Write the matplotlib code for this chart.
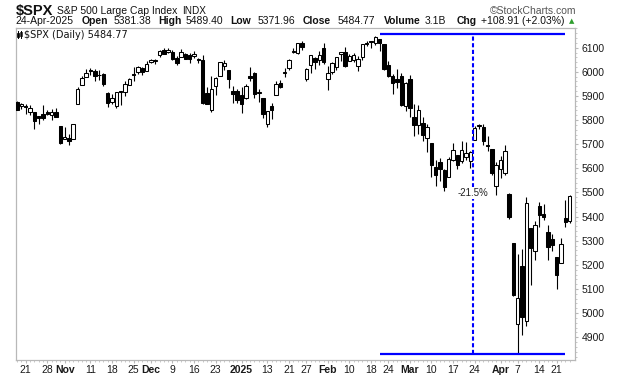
import matplotlib
matplotlib.use("Agg")
import matplotlib.pyplot as plt
from matplotlib.patches import Rectangle
from matplotlib.lines import Line2D
import numpy as np

# ---------------- data ----------------
dates = [
    "2024-10-17", "2024-10-18", "2024-10-21", "2024-10-22", "2024-10-23", "2024-10-24", "2024-10-25",
    "2024-10-28", "2024-10-29", "2024-10-30", "2024-10-31", "2024-11-01", "2024-11-04", "2024-11-05",
    "2024-11-06", "2024-11-07", "2024-11-08", "2024-11-11", "2024-11-12", "2024-11-13", "2024-11-14",
    "2024-11-15", "2024-11-18", "2024-11-19", "2024-11-20", "2024-11-21", "2024-11-22", "2024-11-25",
    "2024-11-26", "2024-11-27", "2024-11-29", "2024-12-02", "2024-12-03", "2024-12-04", "2024-12-05",
    "2024-12-06", "2024-12-09", "2024-12-10", "2024-12-11", "2024-12-12", "2024-12-13", "2024-12-16",
    "2024-12-17", "2024-12-18", "2024-12-19", "2024-12-20", "2024-12-23", "2024-12-24", "2024-12-26",
    "2024-12-27", "2024-12-30", "2024-12-31", "2025-01-02", "2025-01-03", "2025-01-06", "2025-01-07",
    "2025-01-08", "2025-01-10", "2025-01-13", "2025-01-14", "2025-01-15", "2025-01-16", "2025-01-17",
    "2025-01-21", "2025-01-22", "2025-01-23", "2025-01-24", "2025-01-27", "2025-01-28", "2025-01-29",
    "2025-01-30", "2025-01-31", "2025-02-03", "2025-02-04", "2025-02-05", "2025-02-06", "2025-02-07",
    "2025-02-10", "2025-02-11", "2025-02-12", "2025-02-13", "2025-02-14", "2025-02-18", "2025-02-19",
    "2025-02-20", "2025-02-21", "2025-02-24", "2025-02-25", "2025-02-26", "2025-02-27", "2025-02-28",
    "2025-03-03", "2025-03-04", "2025-03-05", "2025-03-06", "2025-03-07", "2025-03-10", "2025-03-11",
    "2025-03-12", "2025-03-13", "2025-03-14", "2025-03-17", "2025-03-18", "2025-03-19", "2025-03-20",
    "2025-03-21", "2025-03-24", "2025-03-25", "2025-03-26", "2025-03-27", "2025-03-28", "2025-03-31",
    "2025-04-01", "2025-04-02", "2025-04-03", "2025-04-04", "2025-04-07", "2025-04-08", "2025-04-09",
    "2025-04-10", "2025-04-11", "2025-04-14", "2025-04-15", "2025-04-16", "2025-04-17", "2025-04-21",
    "2025-04-22", "2025-04-23", "2025-04-24",
]

opens = [
    5875.6, 5859.4, 5857.8, 5832.7, 5834.5, 5817.8, 5826.8, 5833.9, 5819.7, 5832.7, 5775.3, 5723.2, 5725.2, 5722.4,
    5864.9, 5947.2, 5976.8, 6008.9, 6003.6, 5985.8, 5989.7, 5912.8, 5874.2, 5857.5, 5917.2, 5914.7, 5944.4, 5992.3,
    6000.0, 6014.1, 6004.0, 6040.1, 6043.0, 6069.4, 6089.0, 6081.4, 6084.0, 6057.6, 6060.2, 6074.3, 6068.2, 6063.8,
    6052.6, 6047.7, 5912.7, 5842.0, 5940.3, 5984.6, 6025.0, 6006.2, 5920.7, 5919.7, 5903.3, 5891.1, 5982.8, 5993.3,
    5910.7, 5890.6, 5782.2, 5859.5, 5905.5, 5955.7, 5995.3, 6014.1, 6081.4, 6076.3, 6121.4, 5969.0, 6027.0, 6057.7,
    6050.8, 6096.8, 5969.7, 5998.1, 6020.5, 6072.2, 6083.1, 6046.4, 6049.3, 6025.1, 6060.6, 6115.5, 6121.6, 6117.8,
    6134.5, 6114.1, 6026.7, 5982.7, 5970.9, 5981.9, 5856.7, 5968.3, 5812.0, 5781.4, 5785.9, 5726.0, 5705.4, 5603.7,
    5624.8, 5594.5, 5563.9, 5635.6, 5654.5, 5632.4, 5646.9, 5630.7, 5718.1, 5775.9, 5771.7, 5695.6, 5679.6, 5527.9,
    5597.5, 5580.8, 5492.7, 5292.1, 4953.8, 5193.6, 4965.3, 5353.2, 5255.6, 5442.0, 5412.0, 5335.8, 5305.5, 5232.9,
    5207.7, 5395.9, 5381.4,
]

highs = [
    5878.5, 5872.2, 5866.9, 5863.0, 5834.9, 5817.8, 5862.8, 5842.9, 5847.2, 5850.9, 5775.3, 5772.5, 5741.4, 5783.4,
    5936.1, 5983.8, 6012.5, 6017.3, 6009.9, 6008.2, 5993.9, 5915.1, 5908.1, 5917.1, 5920.7, 5963.3, 5972.9, 6020.8,
    6025.4, 6020.2, 6044.2, 6053.6, 6052.1, 6089.8, 6100.0, 6100.0, 6088.5, 6065.4, 6092.6, 6079.7, 6078.6, 6085.2,
    6057.7, 6070.7, 5935.5, 5982.1, 5978.3, 6040.1, 6049.8, 6006.2, 5940.8, 5929.7, 5935.1, 5949.3, 6021.0, 6000.7,
    5927.9, 5890.6, 5838.4, 5871.9, 5960.6, 5964.7, 6015.0, 6051.5, 6100.8, 6118.7, 6128.2, 6017.2, 6069.3, 6062.8,
    6086.6, 6120.9, 6022.1, 6042.5, 6062.9, 6084.0, 6101.3, 6073.4, 6076.3, 6063.6, 6116.9, 6127.5, 6129.6, 6147.4,
    6134.5, 6114.8, 6043.7, 5992.7, 6009.8, 5993.7, 5959.4, 5986.1, 5865.1, 5860.6, 5812.1, 5783.0, 5705.4, 5636.3,
    5642.2, 5597.8, 5645.3, 5703.5, 5654.5, 5715.3, 5711.2, 5670.8, 5775.1, 5783.0, 5783.0, 5732.3, 5679.6, 5627.6,
    5650.6, 5695.3, 5499.5, 5292.1, 5246.6, 5267.5, 5481.3, 5353.2, 5381.5, 5459.5, 5450.4, 5367.2, 5328.3, 5232.9,
    5309.6, 5469.7, 5489.4,
]

lows = [
    5840.3, 5846.1, 5824.8, 5821.2, 5762.4, 5784.9, 5800.0, 5823.1, 5802.2, 5811.3, 5702.9, 5723.2, 5696.5, 5722.1,
    5864.9, 5947.2, 5976.8, 5986.7, 5960.1, 5965.9, 5942.3, 5853.0, 5866.0, 5850.9, 5860.6, 5899.2, 5944.4, 5963.9,
    5992.3, 5984.9, 6004.0, 6035.3, 6033.4, 6061.1, 6080.0, 6080.0, 6048.6, 6029.9, 6060.2, 6051.3, 6035.8, 6059.1,
    6035.2, 5867.8, 5866.1, 5832.3, 5902.6, 5981.4, 6007.4, 5933.0, 5869.2, 5868.9, 5829.5, 5888.7, 5960.0, 5890.7,
    5874.8, 5809.9, 5773.3, 5805.4, 5905.5, 5931.9, 5978.4, 6006.9, 6076.3, 6074.7, 6088.7, 5962.9, 5994.7, 6013.0,
    6027.5, 6030.9, 5923.9, 5990.9, 6007.1, 6046.8, 6020.0, 6044.8, 6042.3, 6003.0, 6051.0, 6107.6, 6099.5, 6111.2,
    6084.6, 6008.6, 5977.4, 5908.5, 5932.7, 5858.8, 5837.7, 5810.9, 5732.6, 5742.4, 5711.6, 5666.3, 5564.0, 5528.4,
    5546.1, 5504.7, 5563.9, 5631.1, 5597.8, 5622.2, 5632.9, 5603.1, 5718.1, 5763.6, 5695.9, 5670.9, 5572.4, 5488.7,
    5558.5, 5571.5, 5390.8, 5069.9, 4835.0, 4910.4, 4948.4, 5115.3, 5220.8, 5358.0, 5386.4, 5220.8, 5255.6, 5101.6,
    5207.7, 5356.2, 5372.0,
]

closes = [
    5841.5, 5864.7, 5854.0, 5851.2, 5797.4, 5809.9, 5808.1, 5823.5, 5832.9, 5813.7, 5705.5, 5728.8, 5712.7, 5782.8,
    5929.0, 5973.1, 5995.5, 6001.4, 5984.0, 5985.4, 5949.2, 5870.6, 5893.6, 5917.0, 5917.1, 5948.7, 5969.3, 5987.4,
    6021.6, 5998.7, 6032.4, 6047.2, 6049.9, 6086.5, 6075.1, 6090.3, 6052.9, 6034.9, 6084.2, 6051.3, 6051.1, 6074.1,
    6050.6, 5872.2, 5867.1, 5930.9, 5974.1, 6040.0, 6037.6, 5970.8, 5906.9, 5881.6, 5868.6, 5942.5, 5975.4, 5909.0,
    5918.3, 5827.0, 5836.2, 5842.9, 5949.9, 5937.3, 5996.7, 6049.2, 6086.4, 6118.7, 6101.2, 6012.3, 6067.7, 6039.3,
    6071.2, 6040.5, 5994.6, 6037.9, 6061.5, 6083.6, 6026.0, 6066.4, 6068.5, 6052.0, 6115.1, 6114.6, 6129.6, 6144.2,
    6117.5, 6013.1, 5983.3, 5955.3, 5956.1, 5861.6, 5954.5, 5849.7, 5778.2, 5842.6, 5738.5, 5770.2, 5614.6, 5572.1,
    5599.3, 5521.5, 5638.9, 5675.1, 5614.7, 5675.3, 5662.9, 5667.6, 5767.6, 5776.7, 5712.2, 5693.3, 5580.9, 5611.9,
    5633.1, 5671.0, 5396.5, 5074.1, 5062.3, 4982.8, 5456.9, 5268.1, 5363.4, 5406.0, 5396.6, 5275.7, 5282.7, 5158.2,
    5287.8, 5375.9, 5484.8,
]

tick_dates = ["2024-10-21", "2024-10-28", "2024-11-01", "2024-11-11", "2024-11-18", "2024-11-25",
              "2024-12-02", "2024-12-09", "2024-12-16", "2024-12-23", "2025-01-02", "2025-01-13",
              "2025-01-21", "2025-01-27", "2025-02-03", "2025-02-10", "2025-02-18", "2025-02-24",
              "2025-03-03", "2025-03-10", "2025-03-17", "2025-03-24", "2025-04-01", "2025-04-07",
              "2025-04-14", "2025-04-21"]
tick_labels = ["21", "28", "Nov", "11", "18", "25", "Dec", "9", "16", "23", "2025", "13", "21", "27",
               "Feb", "10", "18", "24", "Mar", "10", "17", "24", "Apr", "7", "14", "21"]
bold_labels = ["Nov", "Dec", "2025", "Feb", "Mar", "Apr"]

y_ticks = [4900, 5000, 5100, 5200, 5300, 5400, 5500, 5600, 5700, 5800, 5900, 6000, 6100]

high_level = 6158      # drawn peak line
low_level = 4832       # drawn trough line
drop_label = "-21.5%"

# ---------------- figure ----------------
W, H = 620, 376
fig = plt.figure(figsize=(W / 100, H / 100), dpi=100)
fig.patch.set_facecolor("white")

def fx(px):
    return px / W

def fy(py):
    return 1 - py / H

ax_l, ax_r, ax_t, ax_b = 16, 575, 28.3, 360.3
ax = fig.add_axes([fx(ax_l), fy(ax_b), fx(ax_r - ax_l), (ax_b - ax_t) / H])

x = np.arange(len(dates))
o = np.array(opens); h = np.array(highs); l = np.array(lows); c = np.array(closes)

# wicks
ax.vlines(x, l, h, color="black", linewidth=0.8, zorder=2)
# bodies
up = c >= o
body_bottom = np.minimum(o, c)
body_h = np.maximum(np.abs(c - o), 3.0)
ax.bar(x[up], body_h[up], bottom=body_bottom[up], width=0.8, facecolor="white",
       edgecolor="black", linewidth=0.75, zorder=3)
ax.bar(x[~up], body_h[~up], bottom=body_bottom[~up], width=0.8, facecolor="black",
       edgecolor="black", linewidth=0.75, zorder=3)

ax.set_xlim(-0.255, 129.26)
ax.set_ylim(4804.5, 6180.4)

# annotations
blue = "#0000ff"
x_start, x_end, x_dash = 84.1, 126.95, 105.56
ax.plot([x_start, x_end], [high_level, high_level], color=blue, linewidth=1.6, zorder=4,
        solid_capstyle="butt")
ax.plot([x_start, x_end], [low_level, low_level], color=blue, linewidth=1.6, zorder=4,
        solid_capstyle="butt")
ax.plot([x_dash, x_dash], [low_level, high_level], color=blue, linewidth=1.5,
        linestyle=(0, (2, 1.2)), zorder=4)
ax.text(x_dash, 5498, drop_label, ha="center", va="center", fontsize=7,
        family="Liberation Sans", color="#222222", zorder=5,
        bbox=dict(facecolor="white", edgecolor="none", pad=0.6))

# spines / ticks
for s in ax.spines.values():
    s.set_color("#b8b8b8")
    s.set_linewidth(0.9)

ax.yaxis.tick_right()
ax.set_yticks(y_ticks)
ax.set_yticklabels([str(v) for v in y_ticks])
ax.set_yticks(np.arange(4820, 6181, 20), minor=True)
ax.tick_params(axis="y", which="major", direction="out", length=2.5, width=0.8,
               color="#b8b8b8", pad=2.5, labelsize=7.5, labelcolor="#1a1a1a",
               left=False, right=True)
ax.tick_params(axis="y", which="minor", direction="out", length=1.5, width=0.7,
               color="#c8c8c8", left=False, right=True)

idx = {d: i for i, d in enumerate(dates)}
ax.set_xticks([idx[d] for d in tick_dates])
ax.set_xticklabels(tick_labels)
ax.set_xticks(x, minor=True)
ax.tick_params(axis="x", which="major", direction="out", length=2.0, width=0.8,
               color="#b8b8b8", pad=1.5, labelsize=7.5, labelcolor="#1a1a1a")
ax.tick_params(axis="x", which="minor", direction="out", length=1.5, width=0.7,
               color="#c8c8c8")
for lab in ax.get_xticklabels():
    lab.set_family("Liberation Sans")
    if lab.get_text() in bold_labels:
        lab.set_fontweight("bold")
for lab in ax.get_yticklabels():
    lab.set_family("Liberation Sans")

# ---------------- header ----------------
spx_txt = fig.text(fx(15.8), fy(10.5), "$SPX", fontsize=10.5, fontweight="bold",
                   family="Liberation Sans", va="center", ha="left", color="#111111")
renderer = fig.canvas.get_renderer()
spx_end = spx_txt.get_window_extent(renderer).x1
name_txt = fig.text(fx(max(53.6, spx_end + 4)), fy(10.5), "S&P 500 Large Cap Index", fontsize=7.5,
                    family="Liberation Sans", va="center", ha="left", color="#111111")
name_end = name_txt.get_window_extent(renderer).x1
fig.text(fx(name_end + 5), fy(10.5), "INDX", fontsize=7.2,
         family="Liberation Sans", va="center", ha="left", color="#111111")
fig.text(fx(576), fy(10.5), "\u00a9StockCharts.com", fontsize=7.5,
         family="Liberation Sans", va="center", ha="right", color="#555555")

row2 = [
    (15.8, "24-Apr-2025", "normal"), (81.9, "Open", "bold"), (113.9, "5381.38", "normal"),
    (158.2, "High", "bold"), (185.8, "5489.40", "normal"), (230.5, "Low", "bold"),
    (257.8, "5371.96", "normal"), (302.5, "Close", "bold"), (337.3, "5484.77", "normal"),
    (383.6, "Volume", "bold"), (425.0, "3.1B", "normal"), (456.7, "Chg", "bold"),
    (481.2, "+108.91 (+2.03%)", "normal"),
]
for px, t, w in row2:
    fig.text(fx(px), fy(21), t, fontsize=7.5, fontweight=w, family="Liberation Sans",
             va="center", ha="left", color="#111111")
fig.text(fx(572), fy(21), "\u25b2", fontsize=5, family="DejaVu Sans", va="center",
         ha="center", color="#2e9e2e")

# legend inside plot
fig.add_artist(Line2D([fx(18), fx(18)], [fy(30.5), fy(38)], color="black", lw=0.7))
fig.add_artist(Rectangle((fx(17), fy(36.5)), fx(2), 4 / H, facecolor="black",
                         edgecolor="black", lw=0.5))
fig.add_artist(Line2D([fx(21), fx(21)], [fy(30.5), fy(38)], color="black", lw=0.7))
fig.add_artist(Rectangle((fx(20), fy(35.5)), fx(2), 3.5 / H, facecolor="white",
                         edgecolor="black", lw=0.5))
fig.text(fx(23.5), fy(34.5), "$SPX (Daily) 5484.77", fontsize=7, family="DejaVu Sans",
         va="center", ha="left", color="#111111")

fig.savefig("out.png", dpi=100, facecolor="white")
